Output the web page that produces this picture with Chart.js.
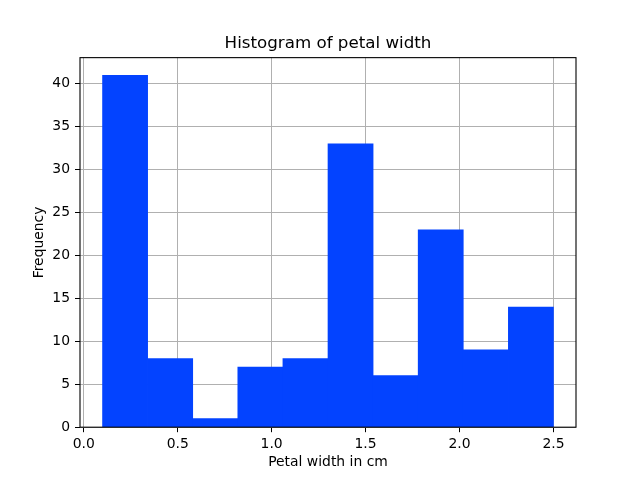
<!DOCTYPE html>
<html>
<head>
<meta charset="utf-8">
<script src="https://cdn.jsdelivr.net/npm/chart.js@4/dist/chart.umd.min.js"></script>
<style>
  html, body { margin: 0; padding: 0; background: #fff; }
  canvas { display: block; }
</style>
</head>
<body>
<canvas id="hist" width="640" height="480"></canvas>
<script>
// Histogram data: 10 bins of iris petal width
const binEdges = [0.1, 0.34, 0.58, 0.82, 1.06, 1.3, 1.54, 1.78, 2.02, 2.26, 2.5];
const counts = [41, 8, 1, 7, 8, 33, 6, 23, 9, 14];
const xTicks = [0.0, 0.5, 1.0, 1.5, 2.0, 2.5];
const xTickLabels = ['0.0', '0.5', '1.0', '1.5', '2.0', '2.5'];
const yTicks = [0, 5, 10, 15, 20, 25, 30, 35, 40];
const yTickLabels = ['0', '5', '10', '15', '20', '25', '30', '35', '40'];

const FONT = 'DejaVu Sans';

// box round the plot area, like the matplotlib spines
const frame = {
    id: 'frame',
    afterDraw(chart) {
        const { ctx, chartArea: a } = chart;
        ctx.save();
        ctx.strokeStyle = '#000';
        ctx.lineWidth = 1.1;
        ctx.strokeRect(a.left, a.top, a.right - a.left, a.bottom - a.top);
        ctx.restore();
    }
};

const points = counts.map((c, i) => ({ x: (binEdges[i] + binEdges[i + 1]) / 2, y: c }));

new Chart(document.getElementById('hist'), {
    type: 'bar',
    data: {
        datasets: [{
            data: points,
            backgroundColor: '#0343ff',
            borderWidth: 0,
            barPercentage: 1,
            categoryPercentage: 1
        }]
    },
    options: {
        responsive: false,
        animation: false,
        devicePixelRatio: 1,
        // left padding 16 so the title centres over the plot area
        layout: { padding: { top: 0, right: 0, bottom: 0, left: 16 } },
        plugins: {
            legend: { display: false },
            tooltip: { enabled: false },
            title: {
                display: true,
                text: 'Histogram of petal width',
                color: '#000',
                font: { family: FONT, size: 16.7, weight: 'normal', lineHeight: 1.2 },
                padding: { top: 34, bottom: 3.6 }
            }
        },
        scales: {
            x: {
                type: 'linear',
                min: -0.02,
                max: 2.62,
                offset: false,
                z: 1,
                afterBuildTicks: s => { s.ticks = xTicks.map(v => ({ value: v })); },
                afterFit: s => { s.height = 52.8; },
                grid: { color: '#b0b0b0', lineWidth: 1, tickColor: '#000', tickLength: 5, offset: false },
                border: { display: false },
                ticks: {
                    color: '#000',
                    padding: 4,
                    maxRotation: 0,
                    font: { family: FONT, size: 13.9 },
                    callback: (v, i) => xTickLabels[i]
                },
                title: {
                    display: true,
                    text: 'Petal width in cm',
                    color: '#000',
                    font: { family: FONT, size: 13.9 },
                    padding: { top: 0, bottom: 9.2 }
                }
            },
            y: {
                min: 0,
                max: 43.05,
                z: 1,
                afterBuildTicks: s => { s.ticks = yTicks.map(v => ({ value: v })); },
                afterFit: s => { s.width = 64; },
                grid: { color: '#b0b0b0', lineWidth: 1, tickColor: '#000', tickLength: 5 },
                border: { display: false },
                ticks: {
                    color: '#000',
                    padding: 5,
                    font: { family: FONT, size: 13.9 },
                    callback: (v, i) => yTickLabels[i]
                },
                title: {
                    display: true,
                    text: 'Frequency',
                    color: '#000',
                    font: { family: FONT, size: 13.9 },
                    padding: { top: 15, bottom: 0 }
                }
            },
            // empty axis that only reserves the right margin
            yRight: {
                type: 'linear',
                position: 'right',
                min: 0,
                max: 1,
                afterFit: s => { s.width = 64; },
                grid: { display: false },
                border: { display: false },
                ticks: { display: false }
            }
        }
    },
    plugins: [frame]
});
</script>
</body>
</html>
